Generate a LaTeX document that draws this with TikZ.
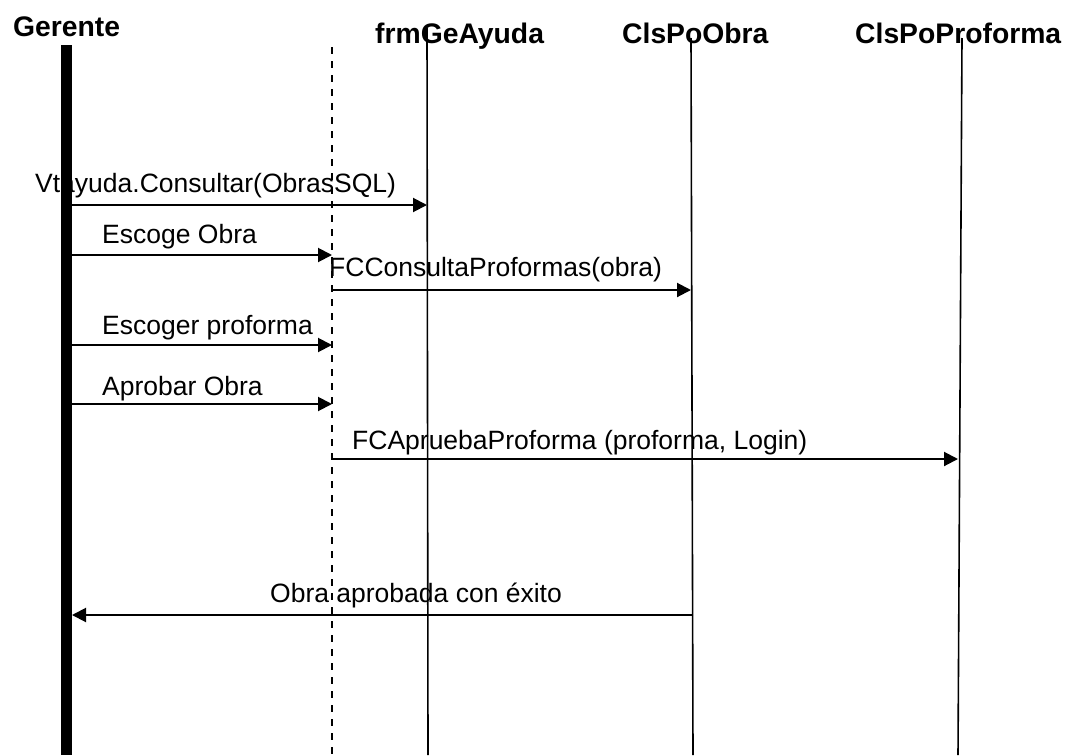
\documentclass[tikz,border=0pt]{standalone}
\usepackage{fontspec}
\setmainfont{Liberation Sans}
\usetikzlibrary{arrows.meta}
\begin{document}
\begin{tikzpicture}[x=1pt,y=-1pt,
  title/.style={font=\fontsize{28.3}{30}\selectfont\bfseries, anchor=base west, inner sep=0pt},
  lbl/.style={font=\fontsize{26.5}{28}\selectfont, anchor=base west, inner sep=0pt},
  msg/.style={line width=2pt, -{Triangle[length=14pt,width=14pt]}},
  life/.style={line width=1.6pt},
  actorbar/.style={line width=11pt},
  dashlife/.style={line width=1.6pt, dash pattern=on 7pt off 7pt},
  ]
\useasboundingbox[fill=white] (0,0) rectangle (1073,755);
% titles
\node[title] (tG) at (13,36) {Gerente};
\node[title] (tF) at (375,43) {frmGeAyuda};
\node[title] (tO) at (622,43) {ClsPoObra};
\node[title] (tP) at (855,43) {ClsPoProforma};
% labels
\node[lbl] (l1) at (35,192) {Vtayuda.Consultar(ObrasSQL)};
\node[lbl] (l2) at (102,243) {Escoge Obra};
\node[lbl] (l3) at (329,276) {FCConsultaProformas(obra)};
\node[lbl] (l4) at (102,334) {Escoger proforma};
\node[lbl] (l5) at (102,395) {Aprobar Obra};
\node[lbl] (l6) at (352,449) {FCApruebaProforma (proforma, Login)};
\node[lbl] (l7) at (270,602) {Obra aprobada con éxito};
% lifelines
\coordinate (gTop) at (66.5,45); \coordinate (gBot) at (66.5,755);
\coordinate (dTop) at (332,47); \coordinate (dBot) at (332,755);
\coordinate (fTop) at (427,28); \coordinate (fBot) at (428,755);
\coordinate (oTop) at (691,38); \coordinate (oBot) at (693,755);
\coordinate (pTop) at (962,38); \coordinate (pBot) at (958,755);
\draw[actorbar] (gTop) -- (gBot);
\draw[dashlife] (dTop) -- (dBot);
\draw[life] (fTop) -- (fBot);
\draw[life] (oTop) -- (oBot);
\draw[life] (pTop) -- (pBot);
% message endpoints
\coordinate (m1a) at (72,205);  \coordinate (m1b) at (427,205);
\coordinate (m2a) at (72,255);  \coordinate (m2b) at (332,255);
\coordinate (m3a) at (332,290); \coordinate (m3b) at (691,290);
\coordinate (m4a) at (72,345);  \coordinate (m4b) at (332,345);
\coordinate (m5a) at (72,404);  \coordinate (m5b) at (332,404);
\coordinate (m6a) at (332,459); \coordinate (m6b) at (958,459);
\coordinate (m7a) at (693,615); \coordinate (m7b) at (72,615);
\draw[msg] (m1a) -- (m1b);
\draw[msg] (m2a) -- (m2b);
\draw[msg] (m3a) -- (m3b);
\draw[msg] (m4a) -- (m4b);
\draw[msg] (m5a) -- (m5b);
\draw[msg] (m6a) -- (m6b);
\draw[msg] (m7a) -- (m7b);
\end{tikzpicture}
\end{document}
